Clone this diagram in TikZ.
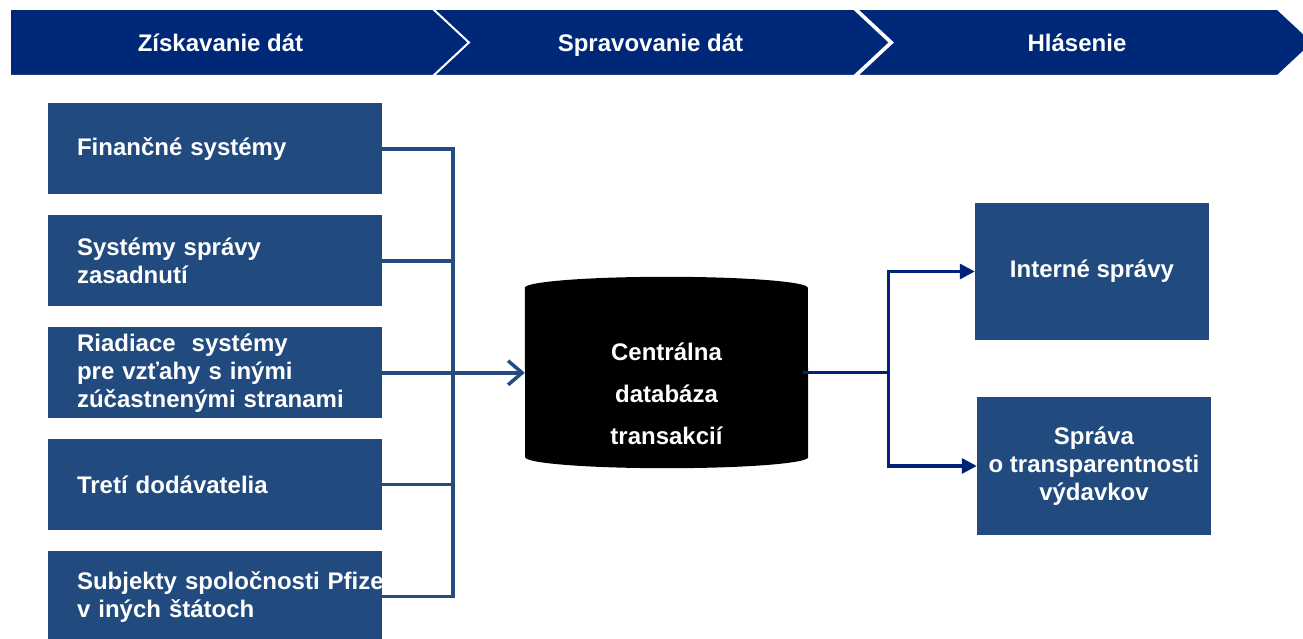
\documentclass[tikz,border=0pt]{standalone}
\usepackage{fontspec}
\setmainfont{Liberation Sans}
\usepackage{tikz}
\usetikzlibrary{shapes.symbols, arrows.meta, positioning, calc, backgrounds}
\definecolor{banner}{RGB}{0, 40, 120}
\definecolor{boxblue}{RGB}{33, 74, 126}
\definecolor{linkblue}{RGB}{36, 76, 128}
\definecolor{navyline}{RGB}{0, 34, 120}
\tikzset{
  x=1pt, y=1pt,
  font=\bfseries\fontsize{24}{28}\selectfont,
  node distance=20.5pt,
  phasebar/.style={
    signal, signal to=east, signal pointer angle=86,
    fill=banner, draw=white, line width=2pt,
    minimum width=457pt, minimum height=67pt
  },
  phasetext/.style={text=white, text height=17pt, text depth=5pt, yshift=-3pt},
  sourcebox/.style={
    rectangle, fill=boxblue, text=white, minimum height=91pt,
    text width=276pt, inner xsep=29pt, align=left
  },
  reportbox/.style={
    rectangle, fill=boxblue, text=white,
    minimum width=234pt, minimum height=137pt, align=center
  },
  dbbody/.style={rectangle, minimum width=283pt, minimum height=191pt},
  dbtext/.style={text=white, align=center, font=\bfseries\fontsize{24}{42}\selectfont},
  busline/.style={draw=linkblue, line width=3.5pt},
  feedline/.style={busline, -{Straight Barb[length=14pt, width=24pt]}},
  reportline/.style={draw=navyline, line width=3.2pt, -{Triangle[length=15pt, width=15pt]}}
}

\begin{document}
\begin{tikzpicture}
  \useasboundingbox (0,0) rectangle (1303,638);

  % Phases
  \node[phasebar, minimum width=475pt,
    label={[phasetext, xshift=-9pt]center:Získavanie dát}] (ziskavanie) at (229.5,595.5) {};
  \node[phasebar, signal from=west,
    label={[phasetext, xshift=-11pt]center:Spravovanie dát}] (spravovanie) at (661.5,595.5) {};
  \node[phasebar, signal from=west,
    label={[phasetext, xshift=-8pt]center:Hlásenie}] (hlasenie) at (1085,595.5) {};

  % Sources
  \node[sourcebox] (financne) at (215,489) {Finančné systémy};
  \node[sourcebox, below=of financne] (zasadnutia) {Systémy správy\\zasadnutí};
  \node[sourcebox, below=of zasadnutia] (riadiace) {Riadiace\ \ systémy\\pre vzťahy s inými\\zúčastnenými stranami};
  \node[sourcebox, below=of riadiace] (tretie) {Tretí dodávatelia};
  \node[sourcebox, below=of tretie] (subjekty) {\mbox{Subjekty spoločnosti Pfizer}\\v iných štátoch};

  % Central database
  \node[dbbody] (db) at (666.5,265.5) {};
  \node[dbtext] (dbtitle) at ([yshift=-21pt]db.center) {Centrálna\\databáza\\transakcií};
  \begin{scope}[on background layer]
    \fill[black] ([yshift=-11pt]db.north west) arc[start angle=180, end angle=0, x radius=141.5pt, y radius=11pt]
      -- ([yshift=11pt]db.south east) arc[start angle=0, end angle=-180, x radius=141.5pt, y radius=11pt] -- cycle;
  \end{scope}

  % Reports
  \node[reportbox] (interne) at (1092,366.5) {Interné správy};
  \node[reportbox, minimum height=138pt] (transparentnost) at (1094,172) {Správa\\o transparentnosti\\výdavkov};

  % Connectors
  \draw[busline] (financne.east) -- ++(71,0) |- (subjekty.east);
  \draw[busline] (zasadnutia.east) -- ++(71,0);
  \draw[busline] (tretie.east) -- ++(71,0);
  \draw[feedline] (riadiace.east) -- (riadiace.east -| db.west);
  \draw[reportline] ([xshift=-5pt]db.east) -- ++(85,0) |- (interne.west);
  \draw[reportline] ([xshift=-5pt]db.east) -- ++(85,0) |- (transparentnost.west);

\end{tikzpicture}
\end{document}
